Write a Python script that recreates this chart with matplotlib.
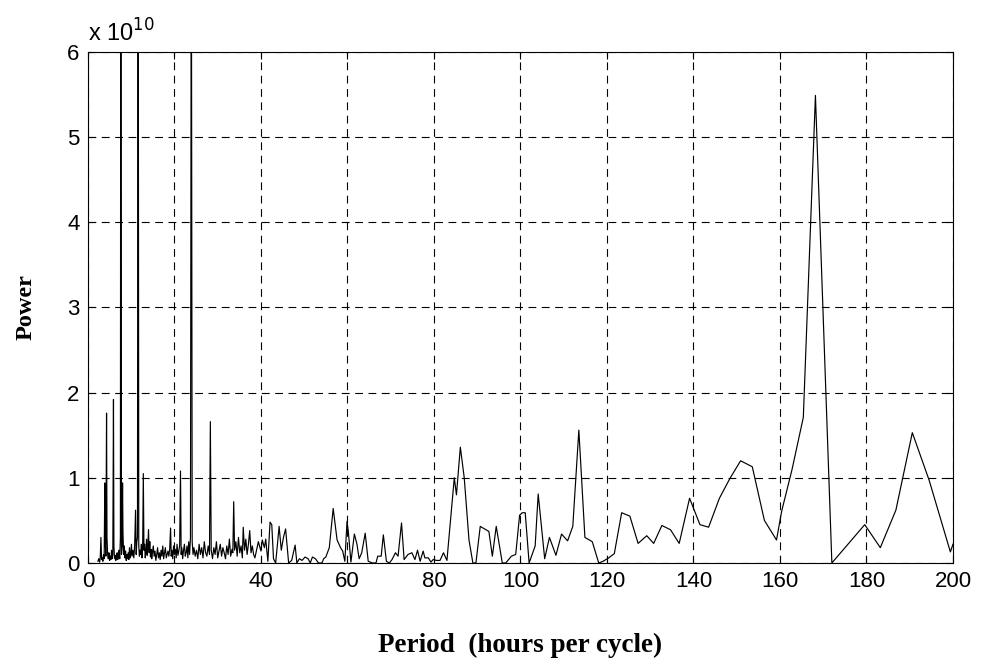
import matplotlib
matplotlib.use("Agg")
import matplotlib.pyplot as plt

# period (hours per cycle) and power (in units of 1e10)
period_hours = [
    2.3, 2.5, 2.7, 2.85, 3.0, 3.15, 3.3, 3.45, 3.6, 3.75, 3.9, 4.0, 4.15, 4.3, 4.4, 4.55,
    4.7, 4.85, 5.0, 5.15, 5.3, 5.45, 5.6, 5.75, 5.9, 6.0, 6.15, 6.3, 6.45, 6.6, 6.75, 6.9,
    7.05, 7.2, 7.35, 7.5, 7.6, 7.75, 7.9, 8.0, 8.1, 8.25, 8.4, 8.55, 8.7, 8.85, 9.0, 9.15,
    9.3, 9.45, 9.6, 9.75, 9.9, 10.05, 10.2, 10.4, 10.6, 10.8, 11.0, 11.15, 11.3, 11.45, 11.6,
    11.75, 11.9, 12.05, 12.2, 12.35, 12.5, 12.65, 12.8, 12.95, 13.1, 13.25, 13.4, 13.55, 13.7,
    13.85, 14.0, 14.15, 14.3, 14.45, 14.6, 14.75, 14.9, 15.1, 15.3, 15.5, 15.7, 15.9, 16.1,
    16.3, 16.5, 16.7, 16.9, 17.1, 17.3, 17.5, 17.7, 17.9, 18.1, 18.3, 18.5, 18.7, 18.9, 19.1,
    19.25, 19.4, 19.6, 19.8, 20.0, 20.2, 20.4, 20.6, 20.8, 21.0, 21.2, 21.4, 21.55, 21.7, 21.9,
    22.1, 22.3, 22.5, 22.7, 22.9, 23.1, 23.3, 23.5, 23.7, 23.9, 24.1, 24.3, 24.5, 24.8, 25.1,
    25.4, 25.7, 26.0, 26.3, 26.6, 26.9, 27.2, 27.5, 27.8, 28.1, 28.3, 28.5, 28.8, 29.1, 29.4,
    29.7, 30.0, 30.3, 30.6, 30.9, 31.2, 31.5, 31.8, 32.1, 32.4, 32.7, 33.0, 33.3, 33.5, 33.7,
    33.9, 34.2, 34.5, 34.8, 35.1, 35.4, 35.7, 35.9, 36.2, 36.5, 36.8, 37.1, 37.4, 37.7, 38.0,
    38.3, 38.6, 39.4, 40.0, 40.3, 40.8, 41.1, 41.6, 42.1, 42.5, 42.9, 43.4, 44.2, 44.7, 45.2,
    45.7, 46.4, 47.1, 47.9, 48.3, 48.9, 49.5, 50.2, 50.9, 51.4, 51.9, 52.6, 53.3, 54.1, 54.5,
    55.0, 55.8, 56.7, 57.6, 58.4, 58.9, 59.4, 59.9, 60.2, 60.8, 61.6, 62.2, 62.7, 63.3, 64.1,
    64.8, 65.8, 66.6, 67.0, 67.8, 68.3, 69.0, 69.7, 70.3, 71.1, 71.7, 72.5, 73.1, 74.0, 74.9,
    75.6, 76.2, 76.8, 77.5, 77.9, 78.7, 79.3, 79.8, 80.6, 81.4, 82.2, 83.0, 84.7, 85.2, 86.1,
    87.0, 88.1, 89.0, 89.7, 90.7, 92.7, 93.5, 94.4, 95.8, 96.6, 97.9, 98.9, 99.8, 100.4, 101.1,
    102.0, 103.4, 104.1, 105.6, 106.7, 108.2, 109.5, 110.9, 112.1, 113.5, 114.9, 116.6, 118.1,
    119.1, 120.4, 121.7, 123.4, 125.3, 127.2, 129.2, 130.8, 132.7, 134.7, 136.7, 139.1, 141.5,
    143.5, 146.0, 148.4, 150.9, 153.6, 156.4, 159.2, 160.4, 162.8, 165.4, 168.2, 172.0, 179.6,
    183.2, 186.8, 190.6, 194.5, 199.4, 200.0,
]
power_e10 = [
    0.02, 0.05, 0.01, 0.07, 0.30, 0.04, 0.06, 0.02, 0.10, 0.05, 0.94, 0.25, 0.08, 1.76, 0.30, 0.10,
    0.05, 0.12, 0.03, 0.08, 0.04, 0.15, 0.05, 0.10, 1.92, 0.20, 0.05, 0.09, 0.03, 0.07, 0.12, 0.04,
    0.08, 0.15, 0.05, 0.30, 9.0, 0.10, 0.20, 0.94, 0.35, 0.10, 0.20, 0.06, 0.14, 0.03, 0.10, 0.05,
    0.12, 0.04, 0.18, 0.06, 0.10, 0.22, 0.08, 0.15, 0.06, 0.20, 0.62, 0.10, 0.25, 0.30, 9.0,
    0.20, 0.08, 0.15, 0.10, 0.22, 0.06, 0.18, 1.05, 0.15, 0.22, 0.06, 0.14, 0.28, 0.09,
    0.20, 0.39, 0.12, 0.25, 0.07, 0.16, 0.05, 0.12, 0.20, 0.08, 0.14, 0.03, 0.10, 0.18,
    0.06, 0.12, 0.04, 0.15, 0.08, 0.20, 0.05, 0.12, 0.18, 0.06, 0.10, 0.14, 0.08, 0.16, 0.41,
    0.08, 0.15, 0.05, 0.20, 0.10, 0.16, 0.06, 0.22, 0.09, 0.14, 0.20, 1.08, 0.10, 0.18, 0.05,
    0.15, 0.22, 0.08, 0.12, 0.20, 0.06, 0.25, 0.10, 0.30, 8.0, 0.25, 0.10, 0.18, 0.08, 0.15,
    0.05, 0.22, 0.10, 0.18, 0.06, 0.25, 0.12, 0.08, 0.20, 0.10, 1.66, 0.15, 0.05, 0.18, 0.10,
    0.25, 0.06, 0.14, 0.22, 0.08, 0.18, 0.12, 0.05, 0.20, 0.10, 0.28, 0.08, 0.16, 0.12, 0.72,
    0.15, 0.25, 0.08, 0.30, 0.12, 0.20, 0.06, 0.42, 0.15, 0.28, 0.10, 0.22, 0.38, 0.12, 0.20,
    0.10, 0.06, 0.25, 0.14, 0.27, 0.18, 0.28, 0.02, 0.48, 0.45, 0.05, 0.0, 0.43, 0.15, 0.30,
    0.40, 0.0, 0.03, 0.21, 0.0, 0.05, 0.03, 0.07, 0.05, 0.0, 0.07, 0.05, 0.0, 0.0, 0.05,
    0.07, 0.18, 0.64, 0.27, 0.18, 0.14, 0.02, 0.49, 0.37, 0.01, 0.34, 0.22, 0.05, 0.12, 0.35,
    0.02, 0.0, 0.0, 0.08, 0.08, 0.33, 0.02, 0.0, 0.04, 0.12, 0.08, 0.47, 0.04, 0.10, 0.12,
    0.04, 0.15, 0.02, 0.14, 0.06, 0.06, 0.01, 0.04, 0.03, 0.03, 0.12, 0.03, 1.0, 0.80, 1.36,
    1.0, 0.27, 0.0, 0.0, 0.43, 0.37, 0.08, 0.43, 0.0, 0.0, 0.08, 0.10, 0.56, 0.59, 0.59,
    0.0, 0.20, 0.81, 0.05, 0.30, 0.09, 0.34, 0.26, 0.43, 1.56, 0.30, 0.25, 0.0,
    0.02, 0.06, 0.11, 0.59, 0.55, 0.23, 0.32, 0.23, 0.44, 0.39, 0.23, 0.76, 0.45,
    0.42, 0.76, 0.99, 1.20, 1.13, 0.50, 0.27, 0.61, 1.10, 1.71, 5.49, 0.0, 0.45,
    0.18, 0.62, 1.53, 0.97, 0.13, 0.22,
]

x_ticks = [0, 20, 40, 60, 80, 100, 120, 140, 160, 180, 200]
y_ticks = [0, 1, 2, 3, 4, 5, 6]

fig = plt.figure(figsize=(9.86, 6.6), dpi=100)
ax = fig.add_axes([0.0892, 0.147, 0.8773, 0.7742])

ax.plot(period_hours, power_e10, color="black", linewidth=0.85)

ax.set_xlim(0, 200)
ax.set_ylim(0, 6)
ax.set_xticks(x_ticks)
ax.set_yticks(y_ticks)
ax.grid(True, color="black", linestyle=(0, (7, 5)), linewidth=0.8)
ax.tick_params(direction="in", top=True, right=True, length=5, width=0.8,
               labelsize=16, pad=6)
for lab in ax.get_xticklabels() + ax.get_yticklabels():
    lab.set_fontfamily("Liberation Sans")
for sp in ax.spines.values():
    sp.set_linewidth(0.8)

ax.set_xlabel("Period  (hours per cycle)", fontfamily="Liberation Serif",
              fontweight="bold", fontsize=19.5, labelpad=29)
ax.set_ylabel("Power", fontfamily="Liberation Serif", fontweight="bold",
              fontsize=17.5, labelpad=22)

fig.text(0.089, 0.93, "x 10$^{10}$", fontfamily="Liberation Sans", fontsize=17,
         ha="left", va="bottom")

fig.savefig("out.png", dpi=100)
